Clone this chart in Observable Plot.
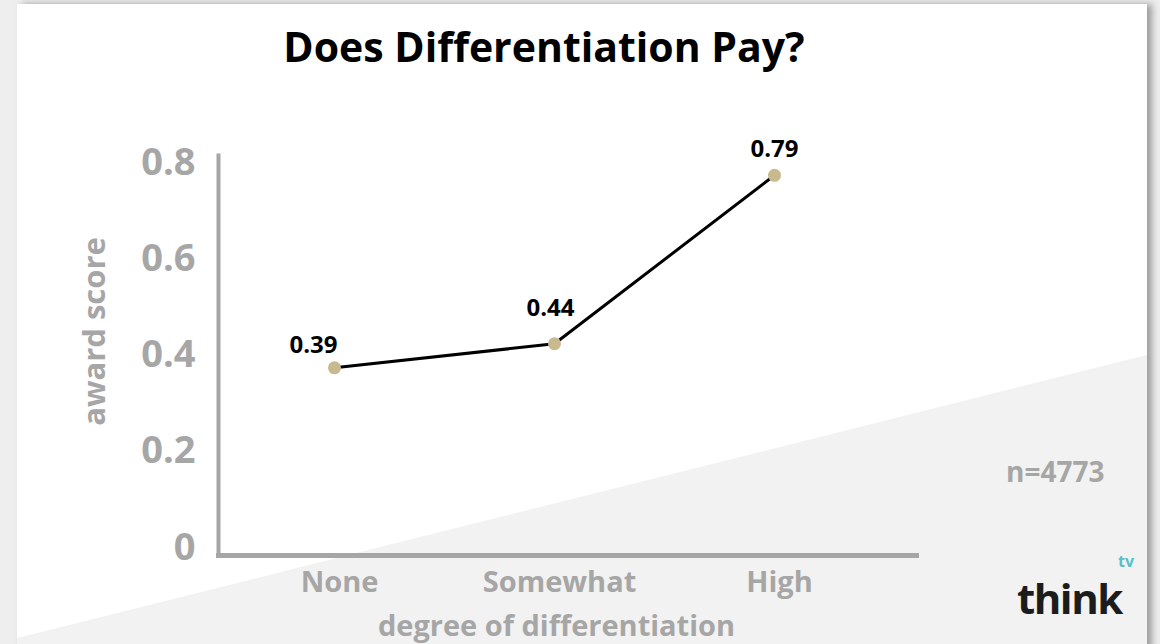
<!DOCTYPE html>
<html>
<head>
<meta charset="utf-8">
<script src="https://cdn.jsdelivr.net/npm/d3@7"></script>
<script src="https://cdn.jsdelivr.net/npm/@observablehq/plot@0.6"></script>
<style>
  html, body { margin: 0; padding: 0; background: #eeeeee; }
  #page { position: relative; width: 1160px; height: 644px; overflow: hidden; background: #eeeeee; font-family: "Open Sans", sans-serif; }
  #slide { position: absolute; left: 17px; top: 4px; width: 1130px; height: 660px; background: #ffffff; box-shadow: 5px 0 7px rgba(0,0,0,0.35); }
  #tri { position: absolute; left: 17px; top: 4px; width: 1130px; height: 660px; background: #f2f2f2;
         clip-path: polygon(0px 634px, 1130px 351px, 1130px 660px, 0px 660px); }
  #title { position: absolute; left: 0; top: 26px; width: 1088px; text-align: center; font-size: 41px; line-height: 41px; font-weight: 700; color: #000; }
  #chart { position: absolute; left: 0; top: 100px; }
  #note { position: absolute; left: 1006px; top: 457px; font-size: 28px; line-height: 28px; font-weight: 700; color: #a6a6a6; }
  #logo { position: absolute; left: 1017px; top: 577px; font-size: 42px; line-height: 42px; font-weight: 700; color: #1c1c1c; letter-spacing: -1.5px; }
  #tv { position: absolute; left: 1118px; top: 553px; font-size: 16px; line-height: 16px; font-weight: 700; color: #5bbfc9; }
</style>
</head>
<body>
<div id="page">
  <div id="slide"></div>
  <div id="tri"></div>
  <div id="title">Does Differentiation Pay?</div>
  <div id="chart"></div>
  <div id="note">n=4773</div>
  <div id="logo">think</div>
  <div id="tv">tv</div>
</div>
<script>
// ---- data ----
const categories = ["None", "Somewhat", "High"];
const scores = [0.39, 0.44, 0.79];
const scoreLabels = ["0.39", "0.44", "0.79"];
const yTicks = [0, 0.2, 0.4, 0.6, 0.8];
const yLabel = "award score";
const xLabel = "degree of differentiation";

// ---- styling (label nudges per category) ----
const labelNudge = { None: [-21, -23], Somewhat: [-4, -35], High: [0, -26] };
const gray = "#a6a6a6";

const data = categories.map((c, i) => ({ category: c, score: scores[i], label: scoreLabels[i] }));

const labelMarks = categories.map(c =>
  Plot.text(data.filter(d => d.category === c), {
    x: "category", y: "score", text: "label",
    dx: labelNudge[c][0], dy: labelNudge[c][1],
    fontSize: 24, fontWeight: "bold", fill: "#000"
  })
);

const chart = Plot.plot({
  width: 1160,
  height: 544,
  marginLeft: 218,
  marginRight: 244,
  marginTop: 55,
  marginBottom: 89,
  style: { fontFamily: "'Open Sans', sans-serif", background: "transparent", overflow: "visible" },
  x: { type: "point", domain: categories, range: [333, 774], padding: 0 },
  y: { domain: [0, 0.8], range: [455, 70] },
  marks: [
    Plot.axisY(yTicks, {
      tickSize: 0, tickPadding: 23, fontSize: 38, fontWeight: "bold", fill: gray,
      dy: -8, tickFormat: d => String(d), label: null
    }),
    Plot.axisX({
      tickSize: 0, tickPadding: 16, fontSize: 29, fontWeight: "bold", fill: gray,
      dx: 5, label: null
    }),
    Plot.frame({ anchor: "left", stroke: gray, strokeWidth: 4 }),
    Plot.frame({ anchor: "bottom", stroke: gray, strokeWidth: 5 }),
    Plot.text([yLabel], {
      text: d => d, frameAnchor: "left", rotate: -90, dx: -123, dy: -24,
      fontSize: 31, fontWeight: "bold", fill: gray, textAnchor: "middle", lineAnchor: "middle"
    }),
    Plot.text([xLabel], {
      text: d => d, frameAnchor: "bottom", dx: -11, dy: 71,
      fontSize: 29, fontWeight: "bold", fill: gray, textAnchor: "middle", lineAnchor: "middle"
    }),
    Plot.line(data, { x: "category", y: "score", stroke: "#000", strokeWidth: 3 }),
    Plot.dot(data, { x: "category", y: "score", r: 6.5, fill: "#c8b98e", stroke: "none" }),
    ...labelMarks
  ]
});
document.getElementById("chart").appendChild(chart);
</script>
</body>
</html>
